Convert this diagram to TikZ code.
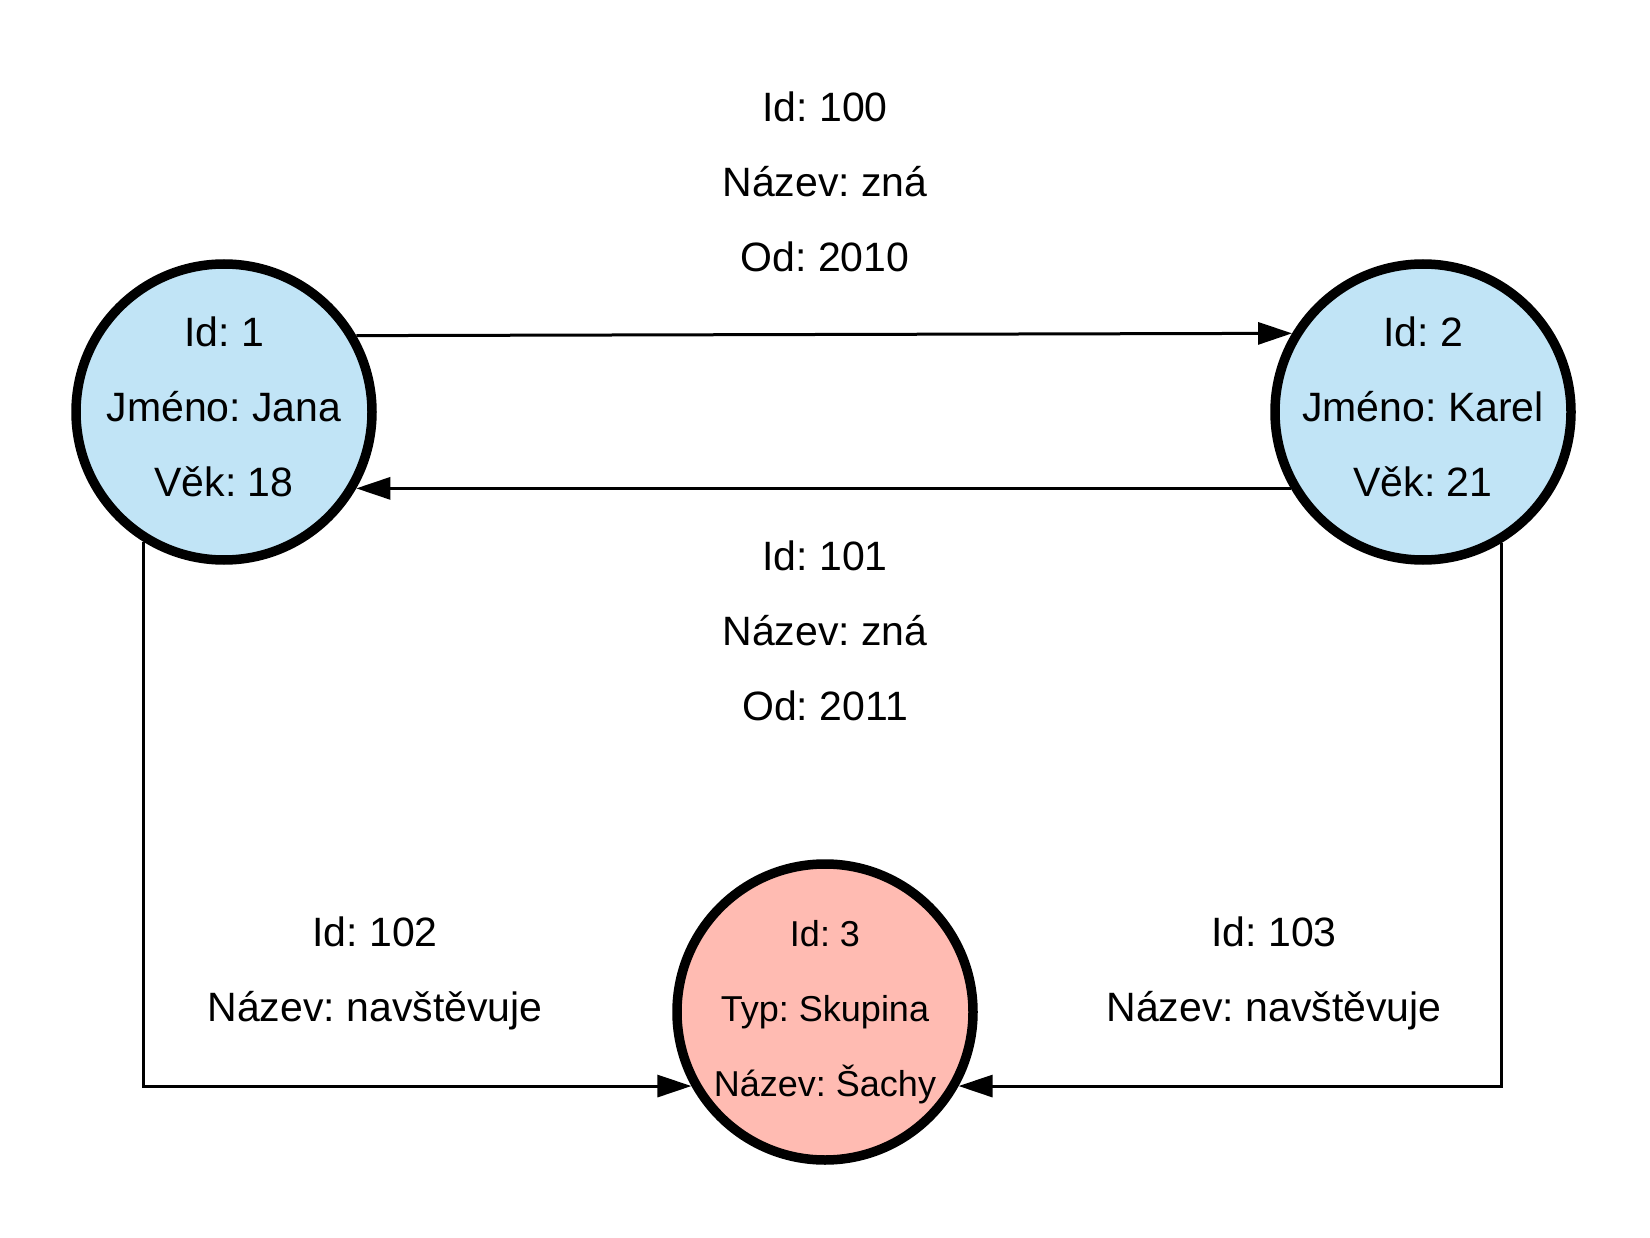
\documentclass[tikz,border=0pt]{standalone}
\usepackage{fontspec}
\setmainfont{Liberation Sans}
\frenchspacing
\usetikzlibrary{arrows.meta}
\definecolor{nodeblue}{RGB}{193,228,246}
\definecolor{nodepink}{RGB}{255,187,178}
\begin{document}
\begin{tikzpicture}[x=1pt,y=-1pt,
  entity/.style={circle,draw=black,line width=9.5pt,minimum size=296pt,inner sep=0pt},
  person/.style={entity,fill=nodeblue},
  group/.style={entity,fill=nodepink},
  ptext/.style={align=center,inner sep=0pt,font=\fontsize{41}{75}\selectfont,yshift=5pt},
  gtext/.style={align=center,inner sep=0pt,font=\fontsize{36}{75}\selectfont},
  lbl/.style={align=center,font=\fontsize{41}{75}\selectfont,inner sep=0pt},
  conn/.style={line width=3pt,-{Triangle[length=34pt,width=22pt]}}]
\useasboundingbox (0,0) rectangle (1650,1238);
\node[person,label={[ptext]center:{Id: 1\\Jméno: Jana\\Věk: 18}}] (n1) at (224,412) {};
\node[person,label={[ptext]center:{Id: 2\\Jméno: Karel\\Věk: 21}}] (n2) at (1423,412) {};
\node[group,label={[gtext]center:{Id: 3\\Typ: Skupina\\Název: Šachy}}] (n3) at (825,1012) {};
\node[lbl] (l100) at (825,182) {Id: 100\\Název: zná\\Od: 2010};
\node[lbl] (l101) at (825,631) {Id: 101\\Název: zná\\Od: 2011};
\node[lbl] (l102) at (375,973) {Id: 102\\Název: navštěvuje};
\node[lbl] (l103) at (1274,973) {Id: 103\\Název: navštěvuje};
\draw[conn] (n1.30.7) -- (n2.149.3);
\draw[conn] (n2.-150) -- (n1.-30);
\draw[conn] (n1.238) |- (n3.209);
\draw[conn] (n2.-59.3) |- (n3.-29);
\end{tikzpicture}
\end{document}
